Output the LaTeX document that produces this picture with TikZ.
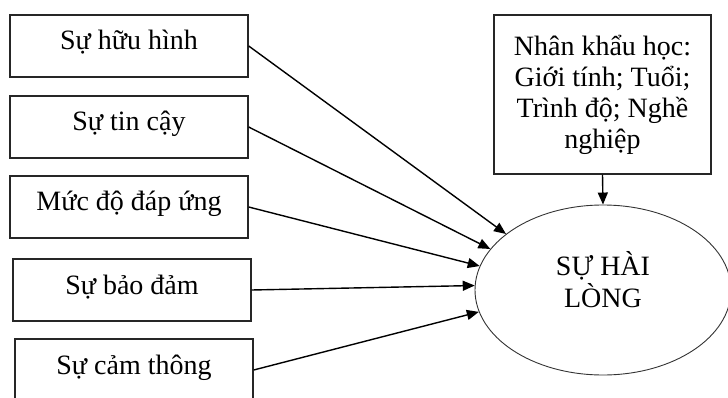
\documentclass[tikz,border=0pt]{standalone}
\usepackage{fontspec}
\setmainfont{Liberation Serif}
\usetikzlibrary{arrows.meta,shapes.geometric}
\begin{document}
\begin{tikzpicture}[x=1pt,y=-1pt,
  factor/.style={draw=black!85, line width=1.4pt, rectangle, inner sep=0pt,
    minimum width=238pt, text height=35pt, text depth=27pt,
    font=\fontsize{28}{29}\selectfont},
  demobox/.style={draw=black!85, line width=1.4pt, rectangle, inner sep=0pt,
    minimum width=217pt, minimum height=159pt, align=center,
    font=\fontsize{28}{31}\selectfont},
  outcome/.style={draw=black!80, line width=0.9pt, ellipse, inner sep=0pt,
    minimum width=256pt, minimum height=170pt, align=center,
    font=\fontsize{28}{32}\selectfont},
  conn/.style={draw=black, line width=1.4pt, -{Triangle[length=12pt,width=10pt]}},
]
\useasboundingbox (0,0) rectangle (728,398);
\node[factor] (f1) at (129,46) {Sự hữu hình};
\node[factor] (f2) at (129,127) {Sự tin cậy};
\node[factor] (f3) at (129,207) {Mức độ đáp ứng};
\node[factor] (f4) at (132,290) {Sự bảo đảm};
\node[factor] (f5) at (134,370) {Sự cảm thông};
\node[demobox] (demo) at (602.5,94.5) {Nhân khẩu học:\\Giới tính; Tuổi;\\Trình độ; Nghề\\nghiệp};
\node[outcome] (sat) at (603,290) {SỰ HÀI\\LÒNG\rule[-22pt]{0pt}{22pt}};
\draw[conn] (f1.east) -- (sat.150);
\draw[conn] (f2.east) -- (sat.160);
\draw[conn] (f3.east) -- (sat.169);
\draw[conn] (f4.east) -- (sat.178);
\draw[conn] (f5.east) -- (sat.190);
\draw[conn] (demo.south) -- (sat.north);
\end{tikzpicture}
\end{document}
